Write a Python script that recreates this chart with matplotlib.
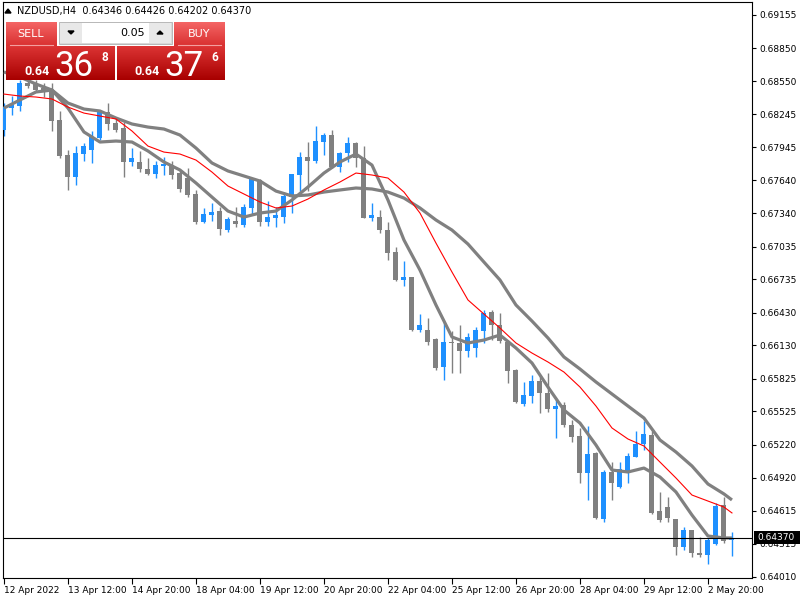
import matplotlib
matplotlib.use("Agg")
import matplotlib.pyplot as plt
import numpy as np
from matplotlib.patches import Rectangle, Polygon
from matplotlib.colors import LinearSegmentedColormap

symbol = "NZDUSD,H4"

opens = [0.68102,0.68303,0.68322,0.68532,0.68523,0.68486,0.68468,0.68193,0.67873,0.67672,
 0.67882,0.67919,0.68029,0.68267,0.68166,0.68120,0.67809,0.67809,0.67745,0.67699,
 0.67772,0.67781,0.67708,0.67662,0.67516,0.67260,0.67324,0.67360,0.67186,0.67269,
 0.67232,0.67388,0.67644,0.67260,0.67296,0.67305,0.67488,0.67690,0.67855,0.67818,
 0.67992,0.68056,0.67763,0.67891,0.67983,0.67846,0.67296,0.67305,0.67186,0.66985,
 0.66729,0.66756,0.66271,0.66271,0.66189,0.65932,0.66161,0.66152,0.66079,0.66106,
 0.66262,0.66436,0.66317,0.66161,0.65905,0.65593,0.65667,0.65804,0.65694,0.65548,
 0.65584,0.65401,0.65300,0.64962,0.65145,0.64541,0.64971,0.64834,0.64980,0.65108,
 0.65227,0.65310,0.64614,0.64650,0.64541,0.64284,0.64440,0.64229,0.64211,0.64312,
 0.64669,0.64346]

highs = [0.68349,0.68413,0.68560,0.68569,0.68560,0.68532,0.68532,0.68276,0.67919,0.67955,
 0.67983,0.68093,0.68285,0.68349,0.68221,0.68175,0.67937,0.67910,0.67846,0.67818,
 0.67855,0.67818,0.67736,0.67754,0.67553,0.67388,0.67434,0.67397,0.67305,0.67397,
 0.67424,0.67662,0.67653,0.67452,0.67397,0.67534,0.67699,0.67900,0.67992,0.68139,
 0.68074,0.68102,0.67900,0.68038,0.67992,0.67955,0.67434,0.67369,0.67260,0.67031,
 0.66903,0.66756,0.66417,0.66381,0.66198,0.66344,0.66262,0.66317,0.66243,0.66298,
 0.66454,0.66454,0.66426,0.66179,0.65914,0.65795,0.65859,0.65859,0.65877,0.65648,
 0.65612,0.65447,0.65374,0.65392,0.65154,0.64989,0.65062,0.65062,0.65145,0.65346,
 0.65438,0.65346,0.64788,0.64742,0.64541,0.64467,0.64440,0.64376,0.64367,0.64687,
 0.64742,0.64426]

lows = [0.68047,0.68239,0.68276,0.68486,0.68450,0.68404,0.68093,0.67846,0.67553,0.67598,
 0.67818,0.67800,0.68010,0.68102,0.68084,0.67672,0.67772,0.67717,0.67690,0.67662,
 0.67690,0.67653,0.67534,0.67488,0.67241,0.67250,0.67269,0.67141,0.67168,0.67214,
 0.67214,0.67324,0.67223,0.67223,0.67214,0.67250,0.67342,0.67543,0.67543,0.67800,
 0.67873,0.67754,0.67717,0.67809,0.67763,0.67296,0.67269,0.67159,0.66912,0.66719,
 0.66674,0.66262,0.66253,0.66134,0.65905,0.65813,0.65877,0.65877,0.66024,0.66024,
 0.66152,0.66179,0.66152,0.65786,0.65603,0.65575,0.65603,0.65511,0.65520,0.65282,
 0.65383,0.65246,0.64870,0.64715,0.64541,0.64513,0.64715,0.64824,0.64870,0.65108,
 0.65172,0.64586,0.64513,0.64513,0.64211,0.64257,0.64193,0.64193,0.64129,0.64303,
 0.64321,0.64202]

closes = [0.68312,0.68331,0.68532,0.68505,0.68468,0.68459,0.68184,0.67864,0.67672,0.67891,
 0.67955,0.68038,0.68276,0.68157,0.68102,0.67809,0.67846,0.67745,0.67699,0.67781,
 0.67791,0.67690,0.67562,0.67507,0.67260,0.67333,0.67351,0.67196,0.67287,0.67241,
 0.67397,0.67653,0.67260,0.67305,0.67324,0.67498,0.67699,0.67855,0.67818,0.68001,
 0.68056,0.67763,0.67891,0.67983,0.67846,0.67296,0.67324,0.67186,0.66976,0.66729,
 0.66756,0.66271,0.66317,0.66161,0.65923,0.66161,0.66152,0.66079,0.66207,0.66271,
 0.66426,0.66317,0.66170,0.65896,0.65612,0.65676,0.65804,0.65694,0.65548,0.65575,
 0.65401,0.65291,0.64962,0.65136,0.64550,0.64971,0.64870,0.64998,0.65117,0.65227,
 0.65319,0.64596,0.64531,0.64550,0.64284,0.64440,0.64229,0.64211,0.64348,0.64660,
 0.64339,0.64370]

ma_idx = list(range(0, 92, 2)) + [91]
ma_fast = [0.68303,0.68377,0.68450,0.68468,0.68303,0.68084,0.67992,0.68001,0.67992,0.67910,
 0.67809,0.67736,0.67617,0.67488,0.67360,0.67305,0.67342,0.67360,0.67461,0.67580,
 0.67708,0.67809,0.67882,0.67781,0.67461,0.67095,0.66820,0.66500,0.66207,0.66152,
 0.66179,0.66225,0.66106,0.65969,0.65749,0.65538,0.65419,0.65218,0.64989,0.64971,
 0.65007,0.64925,0.64788,0.64577,0.64385,0.64367,0.64367]
ma_slow = [0.68633,0.68587,0.68523,0.68468,0.68349,0.68294,0.68276,0.68212,0.68157,0.68129,
 0.68111,0.68056,0.67937,0.67800,0.67727,0.67681,0.67635,0.67543,0.67498,0.67507,
 0.67534,0.67553,0.67571,0.67562,0.67534,0.67479,0.67388,0.67278,0.67186,0.67058,
 0.66893,0.66729,0.66500,0.66353,0.66198,0.66024,0.65914,0.65795,0.65685,0.65575,
 0.65465,0.65264,0.65154,0.65026,0.64861,0.64770,0.64715]
ma_red = [0.68431,0.68413,0.68404,0.68386,0.68312,0.68257,0.68230,0.68203,0.68093,0.67955,
 0.67900,0.67882,0.67827,0.67717,0.67589,0.67516,0.67443,0.67388,0.67406,0.67470,
 0.67553,0.67626,0.67708,0.67690,0.67662,0.67534,0.67342,0.67067,0.66802,0.66546,
 0.66417,0.66289,0.66152,0.66060,0.65978,0.65886,0.65749,0.65575,0.65374,0.65273,
 0.65209,0.65062,0.64916,0.64760,0.64705,0.64650,0.64596]

x_tick_idx = [0, 8, 16, 24, 32, 40, 48, 56, 64, 72, 80, 88]
x_tick_labels = ["12 Apr 2022", "13 Apr 12:00", "14 Apr 20:00", "18 Apr 04:00",
                 "19 Apr 12:00", "20 Apr 20:00", "22 Apr 04:00", "25 Apr 12:00",
                 "26 Apr 20:00", "28 Apr 04:00", "29 Apr 12:00", "2 May 20:00"]
y_ticks = [0.69155, 0.68850, 0.68550, 0.68245, 0.67945, 0.67640, 0.67340, 0.67035,
           0.66735, 0.66430, 0.66130, 0.65825, 0.65525, 0.65220, 0.64920, 0.64615,
           0.64315, 0.64010]
last_price = 0.64370
bid = 0.64368
ask = 0.64376
lot = "0.05"

BULL = "#1e90ff"
BEAR = "#808080"

fig = plt.figure(figsize=(8, 6), dpi=100)
fig.patch.set_facecolor("white")
ax = fig.add_axes([3 / 800, 22 / 600, 749 / 800, 576 / 600])
ax.set_facecolor("white")

n = len(opens)
idx = np.arange(n)
o = np.array(opens); h = np.array(highs); l = np.array(lows); c = np.array(closes)
up = c >= o
cols = [BULL if u else BEAR for u in up]
ax.vlines(idx, l, h, colors=cols, linewidth=1.0, zorder=2)
body_lo = np.minimum(o, c)
body_h = np.maximum(np.abs(c - o), 0.00011)
ax.bar(idx, body_h, bottom=body_lo, width=0.62, color=cols, linewidth=0, zorder=3)

ax.plot(ma_idx, ma_slow, color=BEAR, lw=2.3, zorder=4, solid_capstyle="butt")
ax.plot(ma_idx, ma_fast, color=BEAR, lw=2.3, zorder=4, solid_capstyle="butt")
ax.plot(ma_idx, ma_red, color="#ff0000", lw=0.8, zorder=5)

ax.axhline(last_price, color="black", lw=0.8, zorder=6)

ax.set_xlim(-0.12, -0.12 + 749 / 8)
ax.set_ylim(0.640004, 0.69274)

ax.yaxis.tick_right()
ax.set_yticks(y_ticks)
ax.set_yticklabels([f"{v:.5f}" for v in y_ticks])
ax.tick_params(axis="y", direction="out", length=3, width=0.8, labelsize=6.5, pad=2, colors="black")
ax.set_xticks(x_tick_idx)
ax.set_xticklabels(x_tick_labels)
for lbl in ax.get_xticklabels():
    lbl.set_ha("left")
ax.tick_params(axis="x", direction="out", length=4, width=0.8, labelsize=6.5, pad=2)
for sp in ax.spines.values():
    sp.set_color("black")
    sp.set_linewidth(0.8)

# overlay in pixel coordinates for UI elements
ov = fig.add_axes([0, 0, 1, 1], zorder=10)
ov.patch.set_alpha(0)
ov.axis("off")


def grad(x0, y0, x1, y1, ctop, cbot):
    cm = LinearSegmentedColormap.from_list("g", [ctop, cbot])
    ov.imshow(np.linspace(0, 1, 64).reshape(-1, 1), cmap=cm, extent=(x0, x1, y1, y0),
              aspect="auto", interpolation="bilinear", zorder=1)


# header
ov.add_patch(Polygon([(5, 13), (11, 13), (8, 9)], closed=True, color="black", zorder=2))
ov.text(17, 11, f"{symbol}  {opens[-1]:.5f} {highs[-1]:.5f} {lows[-1]:.5f} {closes[-1]:.5f}",
        fontsize=7, va="center", ha="left", color="black", zorder=2)

# buttons
grad(6, 22, 57, 46, "#f46565", "#d93030")
grad(174, 22, 225, 46, "#f46565", "#d93030")
ov.plot([10, 53], [45, 45], color="#f3a0a0", lw=0.8, zorder=2)
ov.plot([178, 221], [45, 45], color="#f3a0a0", lw=0.8, zorder=2)
ov.text(31, 34, "SELL", fontsize=8, color="white", ha="center", va="center", zorder=3)
ov.text(199, 34, "BUY", fontsize=8, color="white", ha="center", va="center", zorder=3)

# spin control
ov.add_patch(Rectangle((59, 22), 113, 22, facecolor="#d8d8d8", edgecolor="#b0b0b0", lw=0.6, zorder=2))
ov.add_patch(Rectangle((60, 23), 22, 20, facecolor="#e8e8e8", edgecolor="none", zorder=2))
ov.add_patch(Rectangle((149, 23), 22, 20, facecolor="#e8e8e8", edgecolor="none", zorder=2))
ov.add_patch(Rectangle((82, 23), 67, 20, facecolor="white", edgecolor="none", zorder=2))
ov.add_patch(Polygon([(68, 31), (74, 31), (71, 34)], closed=True, color="black", zorder=3))
ov.add_patch(Polygon([(157, 34), (163, 34), (160, 31)], closed=True, color="black", zorder=3))
ov.text(145, 33.5, lot, fontsize=8, color="black", ha="right", va="center", zorder=3)

# price boxes
grad(6, 46, 115, 80, "#dc3434", "#a80000")
grad(117, 46, 225, 80, "#dc3434", "#a80000")


def price_parts(p):
    s = f"{p:.5f}"
    return s[:4], s[4:6], s[6]


for x0, p in [(24, bid), (134, ask)]:
    a, b, d = price_parts(p)
    ov.text(x0, 75, a, fontsize=9, fontweight="bold", family="Roboto", color="white",
            ha="left", va="baseline", zorder=3)
    ov.text(x0 + 30, 76, b, fontsize=25, fontweight="normal", family="Roboto", color="white",
            ha="left", va="baseline", zorder=3)
    ov.text(x0 + 77, 61, d, fontsize=8.5, fontweight="bold", family="Roboto", color="white",
            ha="left", va="baseline", zorder=3)

# last price box on right axis
ov.add_patch(Rectangle((754, 531), 46, 13, facecolor="black", edgecolor="none", zorder=3))
ov.text(757, 537.5, f"{last_price:.5f}", fontsize=6.5, color="white", ha="left",
        va="center", zorder=4)

ov.set_xlim(0, 800)
ov.set_ylim(600, 0)

fig.savefig("out.png", dpi=100)
